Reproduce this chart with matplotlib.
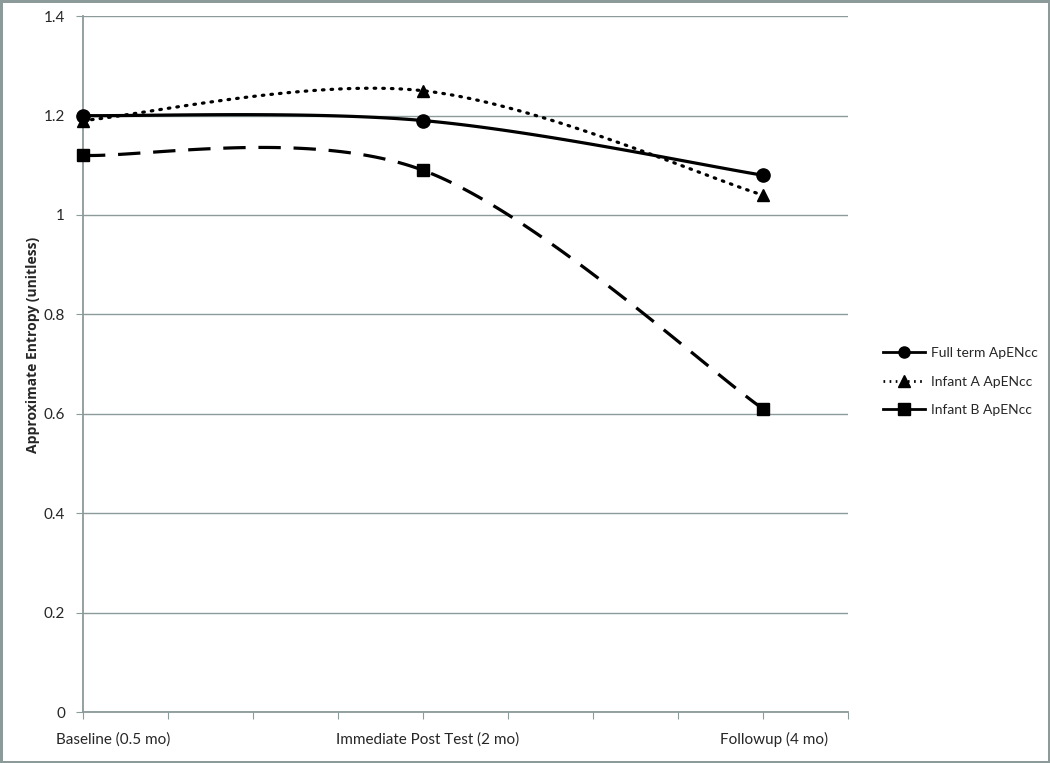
import numpy as np
import matplotlib
matplotlib.use('Agg')
import matplotlib.pyplot as plt
from matplotlib.lines import Line2D
from matplotlib.transforms import offset_copy

plt.rcParams['font.family'] = ['Lato', 'DejaVu Sans']

# data
categories = ['Baseline (0.5 mo)', 'Immediate Post Test (2 mo)', 'Followup (4 mo)']
cat_pos = [0, 4, 8]
full_term = [1.20, 1.19, 1.08]
infant_a = [1.19, 1.25, 1.04]
infant_b = [1.12, 1.09, 0.61]
series_names = ['Full term ApENcc', 'Infant A ApENcc', 'Infant B ApENcc']


def smooth(xs, ys, n=60):
    # excel-like smoothed line (catmull-rom as cubic bezier)
    xs = np.asarray(xs, float)
    ys = np.asarray(ys, float)
    px = np.concatenate([[xs[0]], xs, [xs[-1]]])
    py = np.concatenate([[ys[0]], ys, [ys[-1]]])
    outx, outy = [], []
    t = np.linspace(0, 1, n)
    for i in range(1, len(px) - 2):
        p0 = np.array([px[i], py[i]])
        p3 = np.array([px[i + 1], py[i + 1]])
        c1 = p0 + (np.array([px[i + 1], py[i + 1]]) - np.array([px[i - 1], py[i - 1]])) / 6
        c2 = p3 - (np.array([px[i + 2], py[i + 2]]) - np.array([px[i], py[i]])) / 6
        b = ((1 - t) ** 3)[:, None] * p0 + (3 * (1 - t) ** 2 * t)[:, None] * c1 \
            + (3 * (1 - t) * t ** 2)[:, None] * c2 + (t ** 3)[:, None] * p3
        outx.extend(b[:, 0])
        outy.extend(b[:, 1])
    return outx, outy


grey = '#8c9a9a'
txt = '#262626'

fig = plt.figure(figsize=(10.5, 7.63), dpi=100)
fig.patch.set_edgecolor(grey)
fig.patch.set_linewidth(2.5)
ax = fig.add_axes([0.079, 0.0668, 0.7286, 0.912])

styles = [
    dict(ls='-', marker='o', ms=9.5),
    dict(ls=(0, (0.5, 2.2)), marker='^', ms=9),
    dict(ls=(0, (7, 4)), marker='s', ms=8.5),
]
for vals, st in zip([full_term, infant_a, infant_b], styles):
    sx, sy = smooth(cat_pos, vals)
    ax.plot(sx, sy, color='black', lw=2.3, linestyle=st['ls'],
            dash_capstyle='round' if st['marker'] == '^' else 'butt')
    ax.plot(cat_pos, vals, linestyle='none', marker=st['marker'],
            ms=st['ms'], color='black', clip_on=False, zorder=4)

ax.set_xlim(0, 9)
ax.set_ylim(0, 1.4)
ax.set_xticks(np.arange(0, 10))
ax.set_xticklabels(['' for _ in range(10)])
# excel puts the category labels slightly right of the ticks
label_shift = [22, 3, 8]
for p, lab, dx in zip(cat_pos, categories, label_shift):
    tr = offset_copy(ax.get_xaxis_transform(), fig=fig, x=dx, y=0, units='points')
    ax.text(p, -0.04, lab, ha='center', va='center', fontsize=11, color=txt,
            transform=tr)
ax.set_yticks(np.arange(0, 1.41, 0.2))
ax.set_yticklabels(['0', '0.2', '0.4', '0.6', '0.8', '1', '1.2', '1.4'])
ax.tick_params(axis='y', length=5, color=grey, labelsize=11, labelcolor=txt, pad=8)
ax.tick_params(axis='x', length=5, color=grey, direction='out')
ax.grid(axis='y', color=grey, lw=1)
ax.set_axisbelow(True)
for s in ['top', 'right']:
    ax.spines[s].set_visible(False)
for s in ['left', 'bottom']:
    ax.spines[s].set_color(grey)
    ax.spines[s].set_linewidth(1.3)
ax.set_ylabel('Approximate Entropy (unitless)', fontsize=10, fontweight='bold',
              family=['Open Sans', 'DejaVu Sans'], color=txt)
ax.yaxis.set_label_coords(-0.056, 0.527)

handles = [
    Line2D([], [], color='black', lw=2, ls='-', marker='o', ms=8),
    Line2D([], [], color='black', lw=2, ls=(0, (0.6, 1.6)), marker='^', ms=8),
    Line2D([], [], color='black', lw=2, ls='-', marker='s', ms=8),
]
leg = ax.legend(handles, series_names, loc='center left', bbox_to_anchor=(1.03, 0.475),
                frameon=False, fontsize=10, handlelength=3.0, labelspacing=1.2,
                handletextpad=0.4)
for t in leg.get_texts():
    t.set_color(txt)

fig.savefig('out.png', dpi=100)
